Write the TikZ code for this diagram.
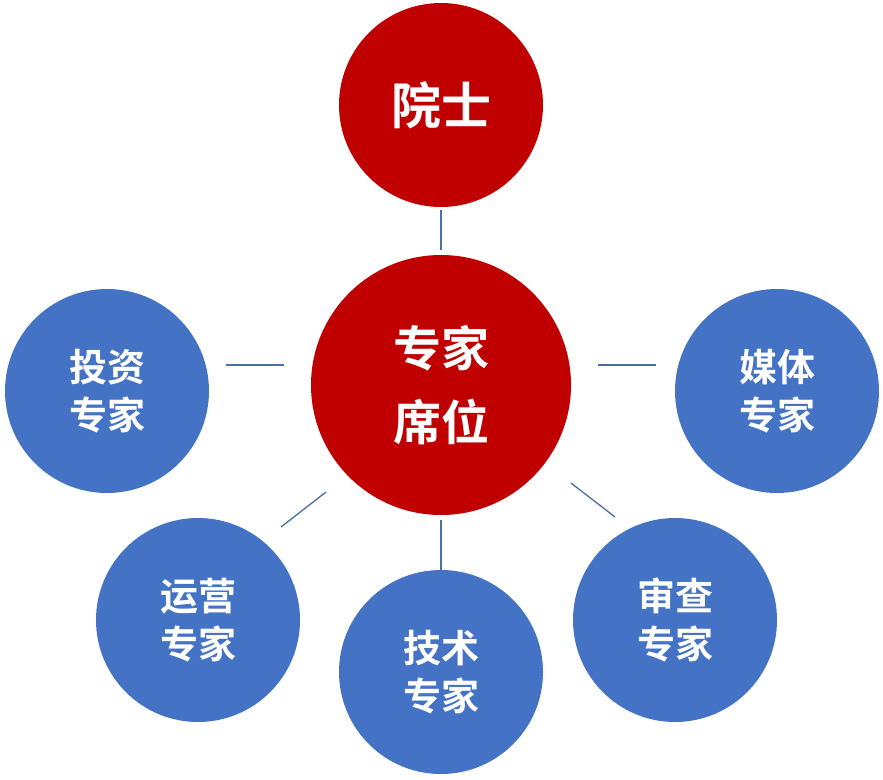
\documentclass[tikz,border=0pt]{standalone}
\usepackage{fontspec}
\newfontfamily\cjk{Noto Sans CJK SC Bold}
\definecolor{cred}{HTML}{C00000}
\definecolor{cblue}{HTML}{4472C4}
\definecolor{cline}{HTML}{4A6FA5}
\begin{document}
\begin{tikzpicture}[x=1pt,y=-1pt,
  big/.style={circle,fill=cred,text=white,inner sep=0pt,minimum size=260pt,font=\cjk\fontsize{48}{74}\selectfont,align=center},
  top/.style={circle,fill=cred,text=white,inner sep=0pt,minimum size=204pt,font=\cjk\fontsize{50}{60}\selectfont,align=center},
  outer/.style={circle,fill=cblue,text=white,inner sep=0pt,minimum size=204pt,font=\cjk\fontsize{38}{48}\selectfont,align=center},
  link/.style={draw=cline,line width=1.3pt}]
\useasboundingbox (0,0) rectangle (883,779);
\node[top] (ys) at (441,105) {院士};
\node[big] (zj) at (441,385) {专家\\席位};
\node[outer] (tz) at (107,391) {投资\\专家};
\node[outer] (mt) at (777,391) {媒体\\专家};
\node[outer] (yy) at (198,620) {运营\\专家};
\node[outer] (js) at (441,672) {技术\\专家};
\node[outer] (sc) at (675,620) {审查\\专家};
\coordinate (a1) at (441,210); \coordinate (a2) at (441,250);
\coordinate (b1) at (226,365); \coordinate (b2) at (284,365);
\coordinate (c1) at (598,365); \coordinate (c2) at (656,365);
\coordinate (d1) at (281,527); \coordinate (d2) at (326,492);
\coordinate (e1) at (441,520); \coordinate (e2) at (441,570);
\coordinate (f1) at (571,483); \coordinate (f2) at (615,517);
\draw[link] (a1) -- (a2);
\draw[link] (b1) -- (b2);
\draw[link] (c1) -- (c2);
\draw[link] (d1) -- (d2);
\draw[link] (e1) -- (e2);
\draw[link] (f1) -- (f2);
\end{tikzpicture}
\end{document}
